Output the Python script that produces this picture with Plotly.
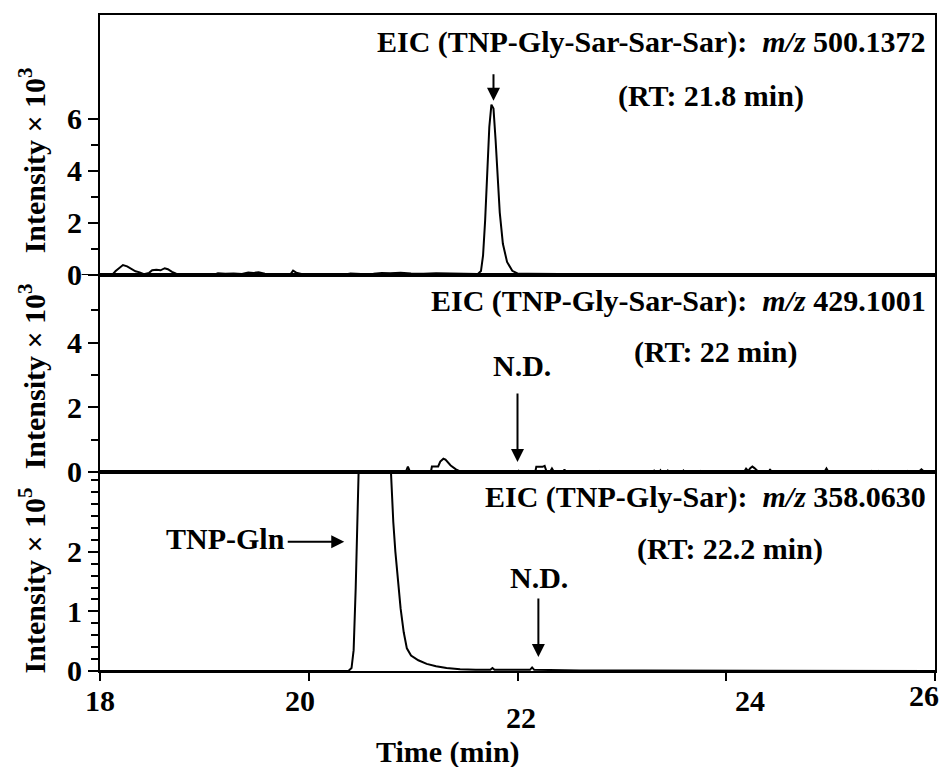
import plotly.graph_objects as go

# ---------------- data ----------------
# Top panel: EIC TNP-Gly-Sar-Sar-Sar (intensity x 10^3)
top_t = [18.00, 18.12, 18.15, 18.19, 18.22, 18.26, 18.30, 18.34, 18.38, 18.42,
         18.47, 18.50, 18.54, 18.58, 18.62, 18.65, 18.69, 18.73, 18.78,
         19.10, 19.13, 19.20, 19.28, 19.36, 19.42, 19.47, 19.52, 19.58, 19.65,
         19.80, 19.83, 19.85, 19.88, 19.93, 20.00,
         20.35, 20.40, 20.50, 20.62, 20.70, 20.78, 20.88, 20.98, 21.10, 21.22,
         21.35, 21.48, 21.58,
         21.62, 21.65, 21.67, 21.69, 21.71, 21.73, 21.75, 21.77, 21.79, 21.81,
         21.83, 21.86, 21.90, 21.95, 22.00,
         22.10, 22.30, 22.60, 23.00, 26.00]
top_v = [0.02, 0.02, 0.15, 0.30, 0.38, 0.33, 0.22, 0.14, 0.10, 0.03,
         0.08, 0.18, 0.20, 0.18, 0.26, 0.22, 0.12, 0.05, 0.02,
         0.02, 0.07, 0.05, 0.06, 0.04, 0.09, 0.08, 0.10, 0.05, 0.03,
         0.02, 0.05, 0.17, 0.09, 0.04, 0.02,
         0.02, 0.06, 0.04, 0.05, 0.08, 0.07, 0.09, 0.06, 0.05, 0.07,
         0.06, 0.07, 0.04,
         0.04, 0.15, 0.75, 2.10, 4.00, 5.70, 6.55, 6.40, 5.20, 3.70,
         2.40, 1.20, 0.50, 0.16, 0.06,
         0.05, 0.04, 0.03, 0.02, 0.02]

# Middle panel: EIC TNP-Gly-Sar-Sar (intensity x 10^3)
mid_t = [18.00, 20.93, 20.95, 20.97,
         21.17, 21.18, 21.24, 21.26, 21.29, 21.31, 21.36, 21.41, 21.46,
         21.99, 22.01, 22.03,
         22.17, 22.18, 22.24, 22.26, 22.28,
         22.31, 22.33, 22.35,
         22.44, 22.45, 22.46,
         22.78, 22.79, 22.80,
         23.30, 23.31, 23.33,
         23.36, 23.37, 23.38,
         23.43, 23.44, 23.45,
         23.58, 23.59, 23.60,
         23.74, 23.75, 23.76,
         23.91, 23.92, 23.96, 23.99, 24.00,
         24.17, 24.19, 24.21, 24.23, 24.25, 24.27, 24.29, 24.31,
         24.41, 24.42, 24.43,
         24.94, 24.96, 24.98,
         25.38, 25.39, 25.41,
         25.45, 25.46, 25.47,
         25.73, 25.74, 25.75,
         25.85, 25.87, 25.90, 26.00]
mid_v = [0.00, 0.00, 0.17, 0.00,
         0.00, 0.17, 0.17, 0.32, 0.41, 0.38, 0.20, 0.08, 0.00,
         0.00, 0.04, 0.00,
         0.00, 0.16, 0.16, 0.19, 0.00,
         0.00, 0.11, 0.00,
         0.00, 0.08, 0.00,
         0.00, 0.03, 0.00,
         0.00, 0.04, 0.00,
         0.00, 0.05, 0.00,
         0.00, 0.04, 0.00,
         0.00, 0.04, 0.00,
         0.00, 0.03, 0.00,
         0.00, 0.03, 0.03, 0.03, 0.00,
         0.00, 0.10, 0.03, 0.12, 0.17, 0.12, 0.06, 0.00,
         0.00, 0.09, 0.00,
         0.00, 0.11, 0.00,
         0.00, 0.03, 0.00,
         0.00, 0.03, 0.00,
         0.00, 0.03, 0.00,
         0.02, 0.08, 0.00, 0.00]

# Bottom panel: EIC TNP-Gly-Sar (intensity x 10^5)
bot_t = [18.00, 20.38, 20.41, 20.43, 20.45, 20.47, 20.49, 20.52, 20.74, 20.77,
         20.79, 20.81, 20.83, 20.85, 20.88, 20.91, 20.94, 20.98, 21.05, 21.13,
         21.22, 21.32, 21.45, 21.60, 21.74, 21.76, 21.78, 22.12, 22.14, 22.16,
         22.60, 23.20, 23.80, 24.40, 25.10, 26.00]
bot_v = [0.00, 0.00, 0.05, 0.35, 1.40, 3.00, 4.20, 4.60, 4.60, 4.00,
         3.20, 2.50, 2.00, 1.60, 1.05, 0.65, 0.38, 0.26, 0.18, 0.12,
         0.08, 0.05, 0.03, 0.02, 0.02, 0.05, 0.02, 0.02, 0.06, 0.02,
         0.01, 0.01, 0.01, 0.01, 0.01, 0.00]

x_ticks = [18, 20, 22, 24, 26]
x_tick_labels = ["18", "20", "22", "24", "26"]
top_ticks = [0, 2, 4, 6]
top_minor = [1, 3, 5]
mid_ticks = [0, 2, 4]
mid_minor = [1, 3, 5]
bot_ticks = [0, 1, 2]
bot_minor = [0.2, 0.4, 0.6, 0.8, 1.2, 1.4, 1.6, 1.8, 2.2, 2.4, 2.6, 2.8, 3.0, 3.2]

# ---------------- style ----------------
FONT = "Liberation Serif"
FS = 30
fnt = dict(family=FONT, size=FS, color="black", weight="bold")

fig = go.Figure()
for xs, ys, xa, ya in [(top_t, top_v, "x", "y"), (mid_t, mid_v, "x2", "y2"), (bot_t, bot_v, "x3", "y3")]:
    fig.add_trace(go.Scatter(x=xs, y=ys, mode="lines", xaxis=xa, yaxis=ya,
                             line=dict(color="black", width=2), showlegend=False,
                             hoverinfo="skip"))

axc = dict(showline=True, linecolor="black", linewidth=2, mirror=True,
           showgrid=False, zeroline=False)
ytick = dict(ticks="outside", ticklen=10, tickwidth=2, tickcolor="black", tickfont=fnt)
minor_style = dict(ticks="outside", ticklen=7, tickwidth=2, tickcolor="black")

d1, d2 = 0.3034, 0.6037
fig.update_layout(
    width=944, height=767,
    margin=dict(l=100, r=7, t=15, b=96),
    paper_bgcolor="white", plot_bgcolor="white",
    font=fnt,
    xaxis=dict(domain=[0, 1], range=[18, 26], anchor="y", showticklabels=False, ticks="", **axc),
    xaxis2=dict(domain=[0, 1], range=[18, 26], anchor="y2", matches="x", showticklabels=False, ticks="", **axc),
    xaxis3=dict(domain=[0, 1], range=[18, 26], anchor="y3", matches="x", tickvals=x_ticks,
                showticklabels=False, ticks="outside", ticklen=8, tickwidth=2, tickcolor="black", **axc),
    yaxis=dict(domain=[d2, 1], range=[0, 10], anchor="x", tickvals=top_ticks,
               minor=dict(tickvals=top_minor, **minor_style), **ytick, **axc),
    yaxis2=dict(domain=[d1, d2], range=[0, 6.1], anchor="x2", tickvals=mid_ticks,
                minor=dict(tickvals=mid_minor, **minor_style), **ytick, **axc),
    yaxis3=dict(domain=[0, d1], range=[0, 3.34], anchor="x3", tickvals=bot_ticks,
                minor=dict(tickvals=bot_minor, **minor_style), **ytick, **axc),
    shapes=[dict(type="line", xref="paper", yref="y", x0=-0.022, x1=0, y0=0, y1=0,
                 line=dict(color="black", width=2))],
)

nb = "\u00a0"
txt = dict(showarrow=False, font=fnt, xanchor="center", yanchor="middle")
ann = []
# panel labels
ann.append(dict(text=f"EIC (TNP-Gly-Sar-Sar-Sar):{nb}{nb}<i>m/z</i> 500.1372", x=25.935, y=8.95,
                xref="x", yref="y", **{**txt, "xanchor": "right"}))
ann.append(dict(text="(RT: 21.8 min)", x=23.85, y=6.9, xref="x", yref="y", **txt))
ann.append(dict(text=f"EIC (TNP-Gly-Sar-Sar):{nb}{nb}<i>m/z</i> 429.1001", x=25.935, y=5.3,
                xref="x2", yref="y2", **{**txt, "xanchor": "right"}))
ann.append(dict(text="(RT: 22 min)", x=23.9, y=3.72, xref="x2", yref="y2", **txt))
ann.append(dict(text="N.D.", x=22.04, y=3.3, xref="x2", yref="y2", **txt))
ann.append(dict(text=f"EIC (TNP-Gly-Sar):{nb}{nb}<i>m/z</i> 358.0630", x=25.935, y=2.92,
                xref="x3", yref="y3", **{**txt, "xanchor": "right"}))
ann.append(dict(text="(RT: 22.2 min)", x=24.04, y=2.05, xref="x3", yref="y3", **txt))
ann.append(dict(text="N.D.", x=22.21, y=1.57, xref="x3", yref="y3", **txt))
ann.append(dict(text="TNP-Gln", x=19.2, y=2.22, xref="x3", yref="y3", **txt))

# arrows
arrow = dict(text="", showarrow=True, arrowhead=2, arrowsize=1.3, arrowwidth=2, arrowcolor="black")
ann.append(dict(x=21.77, y=6.7, xref="x", yref="y", ax=0, ay=-28, **arrow))
ann.append(dict(x=22.0, y=0.31, xref="x2", yref="y2", ax=0, ay=-70, **arrow))
ann.append(dict(x=22.2, y=0.235, xref="x3", yref="y3", ax=0, ay=-60, **arrow))
ann.append(dict(x=20.34, y=2.17, xref="x3", yref="y3", ax=-58, ay=0, **arrow))

# x tick labels (offset as in the original figure)
xshifts = [0, -9, 3, 24, -11]
yshifts = [-29, -29, -46, -29, -24]
for v, lab, dx, dy in zip(x_ticks, x_tick_labels, xshifts, yshifts):
    ann.append(dict(text=lab, x=v, y=0, xref="x3", yref="paper", xshift=dx, yshift=dy, **txt))

# axis titles
ann.append(dict(text="Time (min)", x=0.5, y=0, xref="paper", yref="paper", xshift=-70, yshift=-81, **txt))
for yp, p in [(0.779, "3"), (0.4497, "3"), (0.1387, "5")]:
    ann.append(dict(text=f"Intensity × 10<sup>{p}</sup>", x=-0.081, y=yp, xref="paper", yref="paper",
                    textangle=-90, **txt))

fig.update_layout(annotations=ann)
fig.write_html("out.html")
